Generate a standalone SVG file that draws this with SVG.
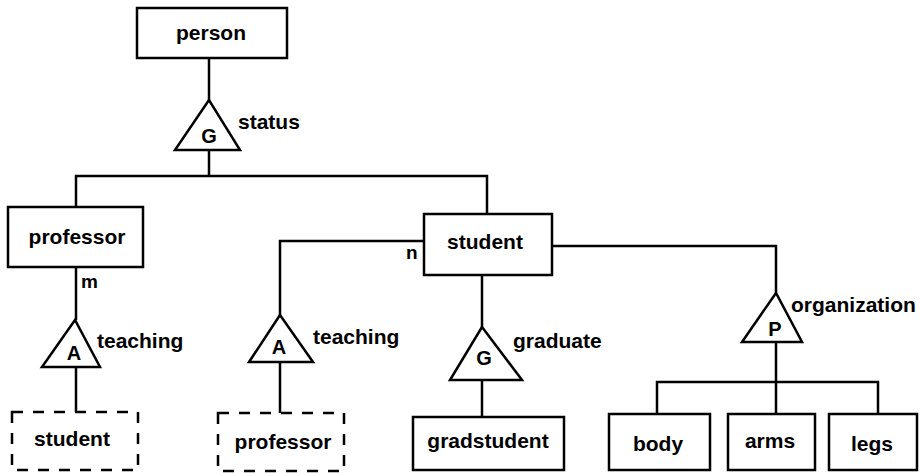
<svg xmlns="http://www.w3.org/2000/svg" width="920" height="473" viewBox="0 0 920 473">
  <style>
    .box { fill: #fff; stroke: #000; stroke-width: 2.5; }
    .dash { fill: #fff; stroke: #000; stroke-width: 2.5; stroke-dasharray: 11 10; }
    .tri { fill: #fff; stroke: #000; stroke-width: 2.5; stroke-linejoin: miter; }
    .wire { fill: none; stroke: #000; stroke-width: 2.5; }
    text { font-family: "Liberation Sans", Arial, sans-serif; font-weight: bold; fill: #000; }
    .lbl { font-size: 21px; text-anchor: middle; }
    .rel { font-size: 21px; }
    .sym { font-size: 20px; text-anchor: middle; }
    .card { font-size: 19px; }
  </style>
  <rect width="920" height="473" fill="#fff"/>

  <!-- connectors -->
  <g id="connectors" class="wire">
    <path d="M209 58 V100"/>
    <path d="M209 150 V176"/>
    <path d="M76 207 V176 H487 V214"/>
    <path d="M76 267 V320"/>
    <path d="M76 367 V412"/>
    <path d="M424 241 H280 V315"/>
    <path d="M280 362 V413"/>
    <path d="M482 275 V327"/>
    <path d="M482 380 V417"/>
    <path d="M552 246 H776 V293"/>
    <path d="M776 342 V382"/>
    <path d="M657 414 V382 H878 V414"/>
    <path d="M776 382 V414"/>
  </g>

  <!-- entities -->
  <g id="person">
    <rect class="box" x="137" y="8" width="150" height="50"/>
    <text class="lbl" x="211" y="40">person</text>
  </g>
  <g id="professor">
    <rect class="box" x="8" y="207" width="135" height="60"/>
    <text class="lbl" x="77" y="244">professor</text>
  </g>
  <g id="student">
    <rect class="box" x="424" y="214" width="128" height="61"/>
    <text class="lbl" x="485" y="249">student</text>
  </g>
  <g id="student-ref">
    <rect class="dash" x="12" y="412" width="126" height="58"/>
    <text class="lbl" x="72" y="446">student</text>
  </g>
  <g id="professor-ref">
    <rect class="dash" x="218" y="413" width="126" height="58"/>
    <text class="lbl" x="283" y="449">professor</text>
  </g>
  <g id="gradstudent">
    <rect class="box" x="413" y="417" width="151" height="53"/>
    <text class="lbl" x="488" y="448">gradstudent</text>
  </g>
  <g id="body">
    <rect class="box" x="609" y="414" width="101" height="56"/>
    <text class="lbl" x="658" y="451">body</text>
  </g>
  <g id="arms">
    <rect class="box" x="728" y="414" width="87" height="56"/>
    <text class="lbl" x="770" y="448">arms</text>
  </g>
  <g id="legs">
    <rect class="box" x="829" y="414" width="88" height="56"/>
    <text class="lbl" x="872" y="451">legs</text>
  </g>

  <!-- relationship triangles -->
  <g id="status">
    <polygon class="tri" points="209,100 175,150 240,150"/>
    <text class="sym" x="209" y="143">G</text>
    <text class="rel" x="238" y="129">status</text>
  </g>
  <g id="teaching-professor">
    <polygon class="tri" points="75,320 42,367 100,367"/>
    <text class="sym" x="74" y="360">A</text>
    <text class="rel" x="97" y="348">teaching</text>
    <text class="card" x="81" y="288">m</text>
  </g>
  <g id="teaching-student">
    <polygon class="tri" points="280,315 249,362 313,362"/>
    <text class="sym" x="279" y="354">A</text>
    <text class="rel" x="313" y="344">teaching</text>
    <text class="card" x="406" y="259">n</text>
  </g>
  <g id="graduate">
    <polygon class="tri" points="482,327 450,380 522,380"/>
    <text class="sym" x="484" y="365">G</text>
    <text class="rel" x="513" y="348">graduate</text>
  </g>
  <g id="organization">
    <polygon class="tri" points="776,293 742,342 802,342"/>
    <text class="sym" x="775" y="336">P</text>
    <text class="rel" x="791" y="312">organization</text>
  </g>
</svg>
